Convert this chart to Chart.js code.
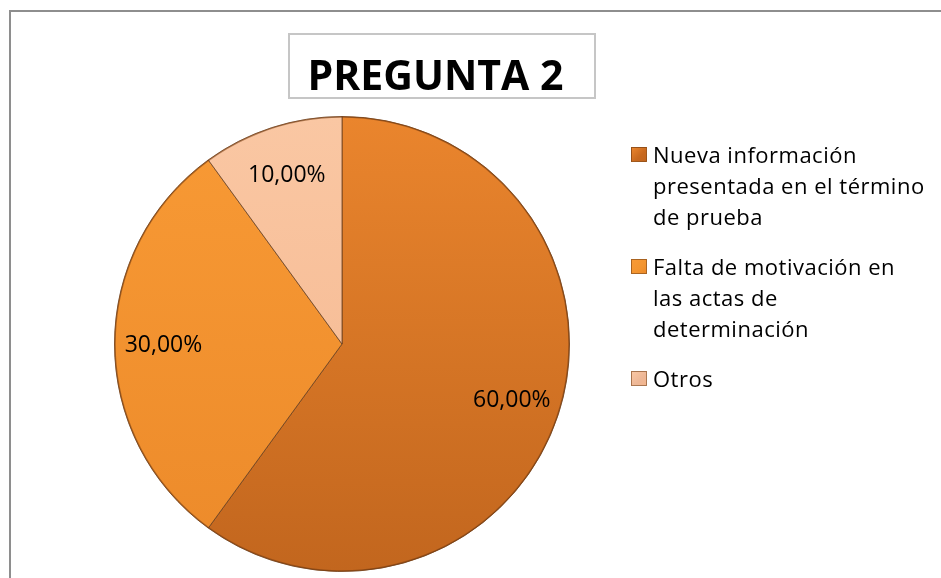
<!DOCTYPE html>
<html>
<head>
<meta charset="utf-8">
<script src="https://cdn.jsdelivr.net/npm/chart.js@4.4.1/dist/chart.umd.min.js"></script>
<style>
  html, body { margin: 0; padding: 0; background: #fff; }
  #wrap { position: relative; width: 941px; height: 578px; overflow: hidden; background: #fff; }
  #frame { position: absolute; left: 9px; top: 10px; width: 960px; height: 600px; border: 2px solid #8e8e8e; box-sizing: border-box; }
  #c { position: absolute; left: 0; top: 0; }
  #title { position: absolute; left: 288px; top: 33px; width: 308px; height: 66px; box-sizing: border-box;
           border: 2px solid #c6c6c6; background: #fff; font-family: "Open Sans", sans-serif; font-weight: bold;
           font-size: 41px; line-height: 56px; padding-top: 11px; padding-right: 13px; text-align: center; color: #000; white-space: nowrap; }
  #legend { position: absolute; left: 631px; top: 139px; font-family: "Open Sans", sans-serif; font-size: 22px; line-height: 31px; letter-spacing: 0.5px; color: #000; }
  .item { position: relative; padding-left: 22px; margin-bottom: 19px; white-space: nowrap; }
  .mk { position: absolute; left: 0; top: 8px; width: 16px; height: 15px; box-sizing: border-box; }
</style>
</head>
<body>
<div id="wrap">
  <div id="frame"></div>
  <canvas id="c" width="941" height="578"></canvas>
  <div id="title"></div>
  <div id="legend"></div>
</div>
<script>
const chartTitle = "PREGUNTA 2";
const categories = [
  ["Nueva información", "presentada en el término", "de prueba"],
  ["Falta de motivación en", "las actas de", "determinación"],
  ["Otros"]
];
const values = [60, 30, 10];

const topColors = ["#EA852D", "#F89A35", "#FAC7A3"];
const bottomColors = ["#C2661E", "#EC8A2A", "#F4B68E"];
const markerColors = ["#C8691F", "#F39530", "#EDB796"];

document.getElementById("title").textContent = chartTitle;

const legendEl = document.getElementById("legend");
categories.forEach((lines, i) => {
  const item = document.createElement("div");
  item.className = "item";
  const mk = document.createElement("div");
  mk.className = "mk";
  mk.style.background = "linear-gradient(135deg, " + topColors[i] + ", " + markerColors[i] + " 60%, " + bottomColors[i] + ")";
  mk.style.border = "1px solid rgba(110,60,20,0.55)";
  item.appendChild(mk);
  lines.forEach((ln, j) => {
    if (j > 0) item.appendChild(document.createElement("br"));
    item.appendChild(document.createTextNode(ln));
  });
  legendEl.appendChild(item);
});

function fmt(v) { return v.toFixed(2).replace(".", ",") + "%"; }

const labelPlugin = {
  id: "sliceLabels",
  afterDatasetsDraw(chart) {
    const ctx = chart.ctx;
    const meta = chart.getDatasetMeta(0);
    const ds = chart.data.datasets[0];
    ctx.save();
    if (meta.data.length) {
      const a0 = meta.data[0];
      ctx.beginPath();
      ctx.arc(a0.x, a0.y, a0.outerRadius - 0.5, 0, Math.PI * 2);
      ctx.strokeStyle = "rgba(120,60,15,0.55)";
      ctx.lineWidth = 1.5;
      ctx.stroke();
    }
    ctx.font = "23px 'Open Sans', sans-serif";
    ctx.fillStyle = "#000";
    ctx.textAlign = "center";
    ctx.textBaseline = "middle";
    const total = ds.data.reduce((a, b) => a + b, 0);
    meta.data.forEach((arc, i) => {
      const mid = (arc.startAngle + arc.endAngle) / 2;
      const r = arc.outerRadius * 0.785;
      const x = arc.x + Math.cos(mid) * r;
      const y = arc.y + Math.sin(mid) * r;
      ctx.fillText(fmt(ds.data[i] / total * 100), x, y + 1);
    });
    ctx.restore();
  }
};

new Chart(document.getElementById("c"), {
  type: "pie",
  data: {
    labels: categories,
    datasets: [{
      data: values,
      backgroundColor: (context) => {
        const chart = context.chart;
        const area = chart.chartArea;
        if (!area) return topColors[context.dataIndex];
        const g = chart.ctx.createLinearGradient(0, area.top, 0, area.bottom);
        g.addColorStop(0, topColors[context.dataIndex]);
        g.addColorStop(1, bottomColors[context.dataIndex]);
        return g;
      },
      borderColor: "rgba(100,60,30,0.75)",
      borderWidth: 1,
      hoverOffset: 0
    }]
  },
  options: {
    responsive: false,
    animation: false,
    devicePixelRatio: 1,
    layout: { padding: { left: 114, top: 116, right: 371, bottom: 6 } },
    plugins: {
      legend: { display: false },
      title: { display: false },
      tooltip: { enabled: false }
    }
  },
  plugins: [labelPlugin]
});
</script>
</body>
</html>
